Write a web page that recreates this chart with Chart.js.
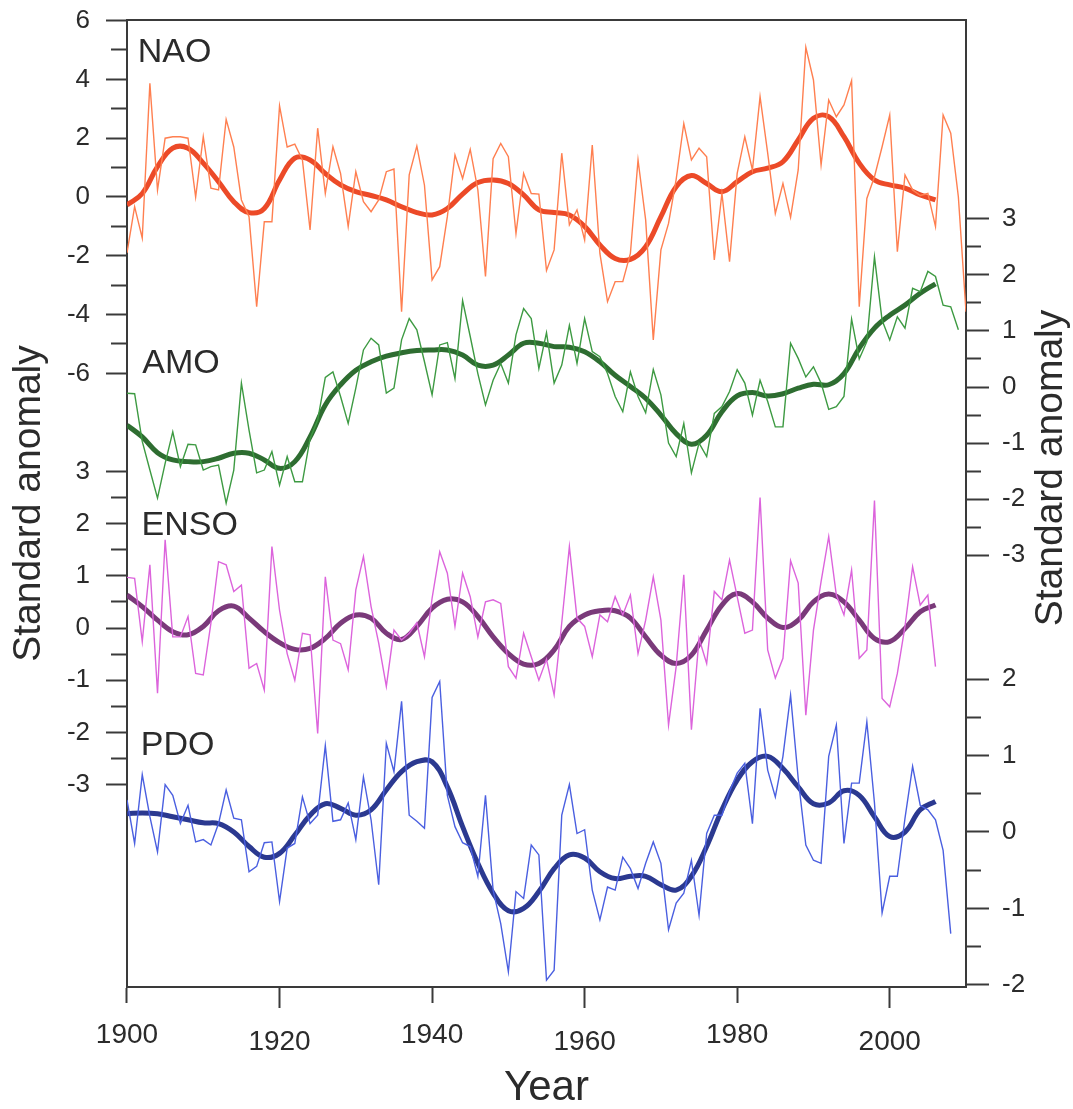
<!DOCTYPE html>
<html>
<head>
<meta charset="utf-8">
<script src="https://cdn.jsdelivr.net/npm/chart.js@4.4.1/dist/chart.umd.min.js"></script>
<style>
  html, body { margin: 0; padding: 0; background: #fff; }
</style>
</head>
<body>
<canvas id="myChart" width="1073" height="1109"></canvas>
<script>
// annual series, first value is 1900
const firstYear = 1900;

const naoAnnual = [
  -1.9, -0.33, -1.4, 3.87, 0.24, 2.0, 2.05, 2.05, 2.0, 0.0,
  2.05, 0.3, 0.24, 2.64, 1.7, -0.1, -0.67, -3.73, -0.84, -0.84,
  3.1, 1.7, 1.8, 1.26, -1.12, 2.34, 0.12, 1.71, 0.8, -1.0,
  0.86, -0.16, -0.5, -0.1, 0.86, 0.95, -3.9, 0.75, 1.73, 0.4,
  -2.82, -2.37, -0.67, 1.43, 0.63, 1.62, 0.24, -2.7, 1.3, 1.82,
  1.37, -1.24, 0.8, 0.12, 0.1, -2.5, -1.8, 1.49, -0.95, -0.44,
  -1.46, 1.77, -1.92, -3.56, -2.88, -2.88, -1.92, 1.26, -0.78, -4.86,
  -1.8, -0.9, 0.6, 2.5, 1.26, 1.66, 1.37, -2.14, 0.12, -2.2,
  0.8, 2.05, 0.92, 3.41, 1.49, -0.56, 0.46, -0.69, 0.92, 5.09,
  3.98, 1.09, 3.3, 2.73, 3.13, 3.96, -3.73, -0.05, 0.69, 1.71,
  2.79, -1.86, 0.75, 0.24, 0.05, 0.12, -1.0, 2.79, 2.17, 0.0,
  -3.9
];

const amoAnnual = [
  -0.11, -0.12, -0.97, -1.48, -1.98, -1.36, -0.8, -1.42, -1.02, -1.03,
  -1.48, -1.42, -1.39, -2.07, -1.48, 0.07, -0.77, -1.53, -1.48, -1.15,
  -1.75, -1.24, -1.69, -1.69, -0.92, -0.59, 0.17, 0.27, -0.17, -0.65,
  -0.02, 0.66, 0.87, 0.75, -0.11, -0.02, 0.84, 1.22, 1.02, 0.45,
  -0.14, 0.75, 0.79, 0.15, 1.54, 0.9, 0.24, -0.32, 0.12, 0.42,
  0.07, 0.93, 1.4, 1.22, 0.33, 0.97, 0.07, 0.39, 1.1, 0.42,
  1.22, 0.63, 0.54, 0.24, -0.17, -0.44, 0.27, -0.17, -0.46, 0.31,
  -0.14, -1.0, -1.24, -0.65, -1.53, -1.0, -1.24, -0.47, -0.35, -0.08,
  0.31, 0.07, -0.5, 0.12, -0.26, -0.71, -0.71, 0.78, 0.51, 0.18,
  0.36, 0.07, -0.4, -0.35, -0.17, 1.21, 0.5, 0.81, 2.32, 1.19,
  0.84, 1.25, 1.05, 1.76, 1.7, 2.06, 1.97, 1.46, 1.43, 1.02
];

const ensoAnnual = [
  0.97, 0.95, -0.26, 1.21, -1.25, 1.69, -0.17, -0.17, 0.22, -0.87,
  -0.9, 0.09, 1.27, 1.21, 0.7, 0.82, -0.77, -0.68, -1.19, 1.56,
  0.34, -0.49, -1.0, -0.1, -0.13, -2.02, 0.98, -0.23, -0.3, -0.8,
  0.73, 1.37, 0.41, -0.29, -1.12, -0.04, -0.23, -0.1, 0.1, -0.55,
  0.57, 1.46, 1.05, 0.03, 1.05, 0.6, -0.17, 0.5, 0.54, 0.47,
  -0.74, -0.96, -0.1, -0.55, -1.0, -0.6, -1.28, 0.1, 1.56, 0.19,
  0.03, -0.55, 0.25, 0.12, 0.6, 0.25, 0.63, -0.49, 0.15, 0.98,
  0.15, -1.86, -0.74, 1.02, -1.95, -0.2, -0.68, 0.7, 0.54, 1.3,
  0.6, -0.1, -0.04, 2.5, -0.42, -0.96, -0.58, 1.29, 0.86, -1.67,
  -0.04, 0.89, 1.75, 0.63, 0.25, 1.11, -0.58, -0.42, 2.44, -1.35,
  -1.51, -0.87, 0.03, 1.17, 0.44, 0.63, -0.74
];

const pdoAnnual = [
  0.42, -0.15, 0.75, 0.2, -0.26, 0.62, 0.48, 0.11, 0.35, -0.13,
  -0.1, -0.17, 0.11, 0.55, 0.18, 0.16, -0.52, -0.45, -0.14, -0.13,
  -0.91, -0.21, -0.15, 0.46, 0.11, 0.22, 1.13, 0.14, 0.16, 0.38,
  -0.1, 0.72, 0.16, -0.69, 1.16, 0.79, 1.71, 0.22, 0.14, 0.05,
  1.76, 1.97, 0.48, 0.07, -0.14, -0.19, -0.58, 0.48, -0.76, -1.2,
  -1.83, -0.78, -0.87, -0.17, -0.3, -1.94, -1.81, 0.22, 0.62, -0.02,
  0.03, -0.76, -1.15, -0.72, -0.76, -0.33, -0.48, -0.74, -0.41, -0.13,
  -0.41, -1.28, -0.93, -0.8, -0.37, -1.09, -0.02, 0.22, 0.22, 0.53,
  0.77, 0.9, 0.11, 1.62, 0.81, 0.46, 0.99, 1.79, 0.7, -0.17,
  -0.37, -0.41, 0.99, 1.4, -0.15, 0.64, 0.64, 1.44, 0.38, -1.06,
  -0.58, -0.58, 0.18, 0.86, 0.35, 0.29, 0.16, -0.24, -1.33
];

// smoothed curves, read every second year
const smoothYears = [
  1900, 1902, 1904, 1906, 1908, 1910, 1912, 1914, 1916, 1918,
  1920, 1922, 1924, 1926, 1928, 1930, 1932, 1934, 1936, 1938,
  1940, 1942, 1944, 1946, 1948, 1950, 1952, 1954, 1956, 1958,
  1960, 1962, 1964, 1966, 1968, 1970, 1972, 1974, 1976, 1978,
  1980, 1982, 1984, 1986, 1988, 1990, 1992, 1994, 1996, 1998,
  2000, 2002, 2004, 2006
];

const naoSmooth = [
  -0.27, 0.12, 1.03, 1.66, 1.66, 1.15, 0.52, -0.16, -0.53, -0.39,
  0.58, 1.32, 1.26, 0.8, 0.41, 0.18, 0.05, -0.1, -0.33, -0.53,
  -0.61, -0.39, 0.1, 0.49, 0.58, 0.46, 0.07, -0.44, -0.53, -0.61,
  -1.0, -1.63, -2.09, -2.12, -1.69, -0.67, 0.35, 0.73, 0.46, 0.18,
  0.52, 0.86, 0.98, 1.2, 1.94, 2.68, 2.73, 2.05, 1.15, 0.58,
  0.41, 0.3, 0.07, -0.1
];

const amoSmooth = [
  -0.68, -0.89, -1.17, -1.3, -1.33, -1.33, -1.27, -1.18, -1.18, -1.3,
  -1.45, -1.33, -0.89, -0.32, 0.04, 0.3, 0.45, 0.55, 0.61, 0.65,
  0.66, 0.66, 0.57, 0.39, 0.39, 0.57, 0.78, 0.78, 0.72, 0.71,
  0.63, 0.45, 0.21, 0.01, -0.2, -0.5, -0.83, -1.02, -0.86, -0.44,
  -0.16, -0.1, -0.16, -0.12, -0.02, 0.05, 0.04, 0.24, 0.69, 1.05,
  1.28, 1.46, 1.67, 1.84
];

const ensoSmooth = [
  0.63, 0.41, 0.15, -0.07, -0.13, 0.03, 0.33, 0.42, 0.19, -0.07,
  -0.28, -0.41, -0.39, -0.2, 0.09, 0.25, 0.19, -0.1, -0.22, 0.03,
  0.38, 0.55, 0.5, 0.22, -0.17, -0.49, -0.69, -0.68, -0.42, 0.03,
  0.25, 0.33, 0.33, 0.19, -0.17, -0.52, -0.68, -0.52, -0.04, 0.44,
  0.66, 0.5, 0.19, 0.01, 0.15, 0.5, 0.65, 0.5, 0.15, -0.2,
  -0.26, -0.01, 0.31, 0.44
];

const pdoSmooth = [
  0.24, 0.25, 0.24, 0.2, 0.16, 0.12, 0.11, 0.0, -0.19, -0.33,
  -0.28, -0.04, 0.22, 0.37, 0.31, 0.22, 0.29, 0.55, 0.79, 0.92,
  0.92, 0.59, 0.07, -0.41, -0.8, -1.03, -1.0, -0.78, -0.48, -0.3,
  -0.34, -0.52, -0.61, -0.58, -0.58, -0.69, -0.76, -0.58, -0.19, 0.29,
  0.68, 0.92, 0.99, 0.83, 0.59, 0.37, 0.38, 0.54, 0.48, 0.2,
  -0.06, 0.0, 0.29, 0.4
];

// tick labels
const xTickYears = [1900, 1920, 1940, 1960, 1980, 2000];
const naoMajorTicks = [6, 4, 2, 0, -2, -4, -6];
const naoMinorTicks = [5, 3, 1, -1, -3, -5];
const ensoMajorTicks = [3, 2, 1, 0, -1, -2, -3];
const ensoMinorTicks = [2.5, 1.5, 0.5, -0.5, -1.5, -2.5];
const amoMajorTicks = [3, 2, 1, 0, -1, -2, -3];
const amoMinorTicks = [2.5, 1.5, 0.5, -0.5, -1.5, -2.5];
const pdoMajorTicks = [2, 1, 0, -1, -2];
const pdoMinorTicks = [1.5, 0.5, -0.5, -1.5];

const FONT = "'Liberation Sans', Arial, sans-serif";
const INK = '#2b2b2b';
const AXIS = '#3a3a3a';

function annual(vals) {
  return vals.map((v, i) => ({ x: firstYear + i, y: v }));
}
function smooth(vals) {
  return smoothYears.map((yr, i) => ({ x: yr, y: vals[i] }));
}

function noPad(s) {
  s.paddingTop = 0; s.paddingBottom = 0; s.paddingLeft = 0; s.paddingRight = 0;
}

// one labelled piece of a stacked side axis
function tickAxis(side, stackWeight, weight, min, max, major, minor) {
  const left = side === 'left';
  return {
    type: 'linear', position: side, stack: side, stackWeight, weight, min, max,
    afterBuildTicks: s => {
      s.ticks = major.concat(minor).sort((a, b) => a - b).map(v => ({ value: v }));
    },
    afterFit: s => { s.width = left ? 67 : 107; noPad(s); },
    ticks: {
      autoSkip: false, padding: left ? 16 : 13, color: INK,
      font: { family: FONT, size: 26 },
      callback: v => major.includes(v) ? String(v) : ''
    },
    grid: {
      drawOnChartArea: false, tickLength: left ? 21 : 23, tickWidth: 2, tickColor: AXIS,
      tickBorderDash: c => (c.tick && minor.includes(c.tick.value)) ? (left ? [0, 5, 40] : [14, 60]) : []
    },
    border: { color: AXIS, width: 2 }
  };
}

// empty piece of a side axis, just the line
function blankAxis(side, stackWeight, weight) {
  return {
    type: 'linear', position: side, stack: side, stackWeight, weight,
    afterFit: s => { s.width = side === 'left' ? 67 : 107; noPad(s); },
    ticks: { display: false },
    grid: { drawOnChartArea: false, drawTicks: false },
    border: { color: AXIS, width: 2 }
  };
}

const lowLabel = v => (v - 1900) % 40 === 20;

const panelLabels = [
  { text: 'NAO', axis: 'yNAO', year: 1901.4, value: 4.59 },
  { text: 'AMO', axis: 'yAMO', year: 1902.0, value: 0.25 },
  { text: 'ENSO', axis: 'yENSO', year: 1901.9, value: 1.78 },
  { text: 'PDO', axis: 'yPDO', year: 1901.8, value: 1.01 }
];

const annotate = {
  id: 'annotate',
  afterDatasetsDraw(chart) {
    const { ctx, scales, chartArea } = chart;
    ctx.save();
    ctx.fillStyle = INK;
    ctx.font = '34px ' + FONT;
    ctx.textAlign = 'left';
    ctx.textBaseline = 'alphabetic';
    panelLabels.forEach(p => {
      ctx.fillText(p.text, scales.x.getPixelForValue(p.year), scales[p.axis].getPixelForValue(p.value));
    });
    // right hand axis title, read bottom to top like the left one
    ctx.font = '39px ' + FONT;
    ctx.translate(chartArea.right + 85, 468);
    ctx.rotate(-Math.PI / 2);
    ctx.textAlign = 'center';
    ctx.textBaseline = 'middle';
    ctx.fillText('Standard anomaly', 0, 0);
    ctx.restore();
  }
};

const thin = { borderWidth: 1.4, pointRadius: 0, tension: 0, fill: false };
const thick = { borderWidth: 5, pointRadius: 0, tension: 0.4, fill: false };

new Chart(document.getElementById('myChart'), {
  type: 'line',
  data: {
    datasets: [
      { ...thin, label: 'NAO', data: annual(naoAnnual), yAxisID: 'yNAO', borderColor: '#ff7f50' },
      { ...thin, label: 'AMO', data: annual(amoAnnual), yAxisID: 'yAMO', borderColor: '#3d9a42' },
      { ...thin, label: 'ENSO', data: annual(ensoAnnual), yAxisID: 'yENSO', borderColor: '#dc64dc' },
      { ...thin, label: 'PDO', data: annual(pdoAnnual), yAxisID: 'yPDO', borderColor: '#4a5fe0' },
      { ...thick, label: 'NAO smooth', data: smooth(naoSmooth), yAxisID: 'yNAO', borderColor: '#ec4a28' },
      { ...thick, label: 'AMO smooth', data: smooth(amoSmooth), yAxisID: 'yAMO', borderColor: '#2e6d31' },
      { ...thick, label: 'ENSO smooth', data: smooth(ensoSmooth), yAxisID: 'yENSO', borderColor: '#7a3a7a' },
      { ...thick, label: 'PDO smooth', data: smooth(pdoSmooth), yAxisID: 'yPDO', borderColor: '#2b3990' }
    ]
  },
  options: {
    responsive: false,
    animation: false,
    devicePixelRatio: 1,
    layout: { autoPadding: false, padding: { top: 20, left: 0, right: 0, bottom: 0 } },
    plugins: { legend: { display: false }, tooltip: { enabled: false } },
    scales: {
      x: {
        type: 'linear', position: 'bottom', min: 1900, max: 2010,
        afterBuildTicks: s => { s.ticks = xTickYears.map(v => ({ value: v })); },
        afterFit: s => { s.height = 122; noPad(s); },
        ticks: {
          autoSkip: false, maxRotation: 0, padding: 10, color: INK,
          font: c => ({ family: FONT, size: 28, lineHeight: (c.tick && lowLabel(c.tick.value)) ? 1.77 : 1.2 }),
          callback: v => String(v)
        },
        grid: {
          drawOnChartArea: false, tickLength: 21, tickWidth: 2, tickColor: AXIS,
          tickBorderDash: c => (c.tick && !lowLabel(c.tick.value)) ? [15, 60] : []
        },
        border: { color: AXIS, width: 2 },
        title: { display: true, text: 'Year', color: INK, font: { family: FONT, size: 42, lineHeight: 1 }, padding: 0 }
      },
      xTop: {
        type: 'linear', position: 'top', min: 1900, max: 2010,
        afterFit: s => { s.height = 0; noPad(s); },
        ticks: { display: false },
        grid: { drawOnChartArea: false, drawTicks: false },
        border: { color: AXIS, width: 2 }
      },
      yTitle: {
        type: 'linear', position: 'left', weight: 10,
        afterFit: s => { s.width = 60; noPad(s); },
        ticks: { display: false },
        grid: { display: false, drawTicks: false },
        border: { display: false },
        title: { display: true, text: 'Standard anomaly', color: INK, font: { family: FONT, size: 39 }, padding: { top: 6, bottom: 0 } }
      },
      yNAO: tickAxis('left', 400, 3, -7.585, 6.02, naoMajorTicks, naoMinorTicks),
      yENSO: tickAxis('left', 410, 2, -3.87, 3.985, ensoMajorTicks, ensoMinorTicks),
      yLeftBase: blankAxis('left', 157, 1),
      yRightTop: blankAxis('right', 150, 1),
      yAMO: tickAxis('right', 450, 2, -4.153, 3.868, amoMajorTicks, amoMinorTicks),
      yPDO: tickAxis('right', 367, 3, -2.029, 2.775, pdoMajorTicks, pdoMinorTicks)
    }
  },
  plugins: [annotate]
});
</script>
</body>
</html>
